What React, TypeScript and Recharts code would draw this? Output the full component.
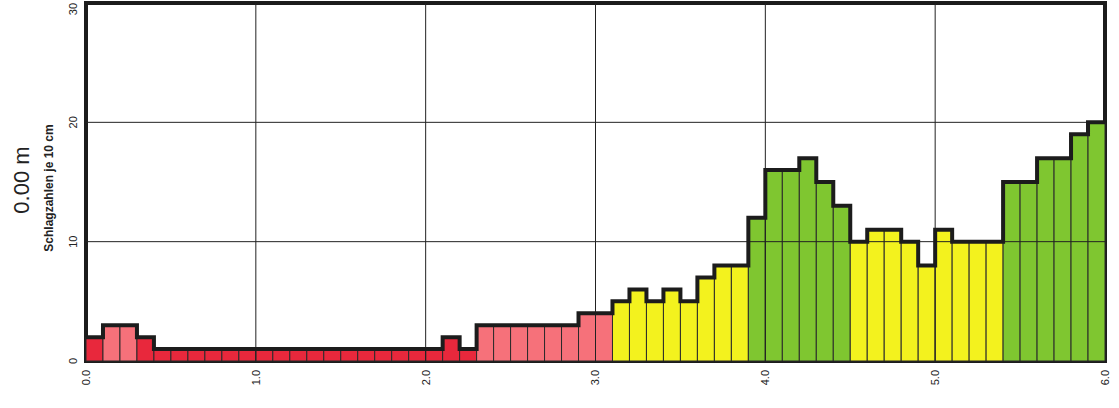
import { ComposedChart, Bar, Line, XAxis, YAxis, Cell, ReferenceLine, ReferenceArea } from 'recharts'

// blow counts per 10 cm, from 0.0 m down to 6.0 m
const blows = [
  2, 3, 3, 2,
  1, 1, 1, 1, 1, 1, 1, 1, 1, 1, 1, 1, 1, 1, 1, 1, 1,
  2, 1,
  3, 3, 3, 3, 3, 3, 4, 4,
  5, 6, 5, 6, 5, 7, 8, 8,
  12, 16, 16, 17, 15, 13,
  10, 11, 11, 10, 8, 11, 10, 10, 10,
  15, 15, 17, 17, 19, 20,
]
const depthTicks = [0, 1, 2, 3, 4, 5, 6]
const countTicks = [0, 10, 20, 30]
const step = 0.1

const bars = blows.map((v, i) => ({ depth: i * step + step / 2, n: v }))
const outline = [...blows, blows[blows.length - 1]].map((v, i) => ({ depth: i * step, n: v }))

function colorFor(v: number) {
  if (v <= 2) return '#e8283c'
  if (v <= 4) return '#f6717a'
  if (v <= 11) return '#f3f21e'
  return '#7fc630'
}

const font = '"Liberation Sans", Arial, sans-serif'

function XTick(props: any) {
  const { x, y, payload } = props
  return (
    <text transform={`translate(${x},${y}) rotate(-90)`} textAnchor="end" dy="0.35em"
      fontSize={11} fontFamily={font} fill="#222">
      {Number(payload.value).toFixed(1)}
    </text>
  )
}

function YTick(props: any) {
  const { x, y, payload } = props
  // keep the top label inside the picture
  const yy = Math.max(y, 9)
  return (
    <text transform={`translate(${x},${yy}) rotate(-90)`} textAnchor="middle" dy="0.35em"
      fontSize={11} fontFamily={font} fill="#222">
      {payload.value}
    </text>
  )
}

export default function App() {
  return (
    <div style={{ position: 'absolute', left: 0, top: 0, width: 1119, height: 408, background: '#fff' }}>
      <div style={{ position: 'absolute', left: 22, top: 180, transform: 'translate(-50%,-50%) rotate(-90deg)', whiteSpace: 'nowrap', fontFamily: font, fontSize: 22, color: '#222' }}>
        0.00 m
      </div>
      <div style={{ position: 'absolute', left: 49, top: 188, transform: 'translate(-50%,-50%) rotate(-90deg)', whiteSpace: 'nowrap', fontFamily: font, fontSize: 12, fontWeight: 'bold', color: '#222' }}>
        Schlagzahlen je 10 cm
      </div>
      <ComposedChart width={1119} height={408} data={bars} barCategoryGap={0} barGap={0}
        margin={{ top: 3, right: 14, left: 0, bottom: 0 }}>
        <XAxis dataKey="depth" type="number" domain={[0, 6]} ticks={depthTicks} interval={0}
          axisLine={false} tickLine={false} tickSize={0} tickMargin={9} height={47} tick={<XTick />} />
        <XAxis xAxisId="edge" dataKey="depth" type="number" domain={[0, 6]} hide />
        <YAxis type="number" domain={[0, 30]} ticks={countTicks} interval={0} width={86}
          axisLine={false} tickLine={false} tickSize={0} tickMargin={13} tick={<YTick />} />
        <Bar dataKey="n" stroke="#2a2a2a" strokeWidth={1} isAnimationActive={false}>
          {bars.map((d, i) => <Cell key={i} fill={colorFor(d.n)} />)}
        </Bar>
        {depthTicks.slice(1, -1).map(t => (
          <ReferenceLine key={'x' + t} x={t} stroke="#222" strokeWidth={1} />
        ))}
        {countTicks.slice(1, -1).map(t => (
          <ReferenceLine key={'y' + t} y={t} stroke="#222" strokeWidth={1} />
        ))}
        <Line xAxisId="edge" data={outline} dataKey="n" type="stepAfter" stroke="#1c1c1c" strokeWidth={4}
          strokeLinejoin="miter" dot={false} activeDot={false} isAnimationActive={false} />
        <ReferenceArea x1={0} x2={6} y1={0} y2={30} fill="none" stroke="#1c1c1c" strokeWidth={4} fillOpacity={0} />
      </ComposedChart>
    </div>
  )
}
